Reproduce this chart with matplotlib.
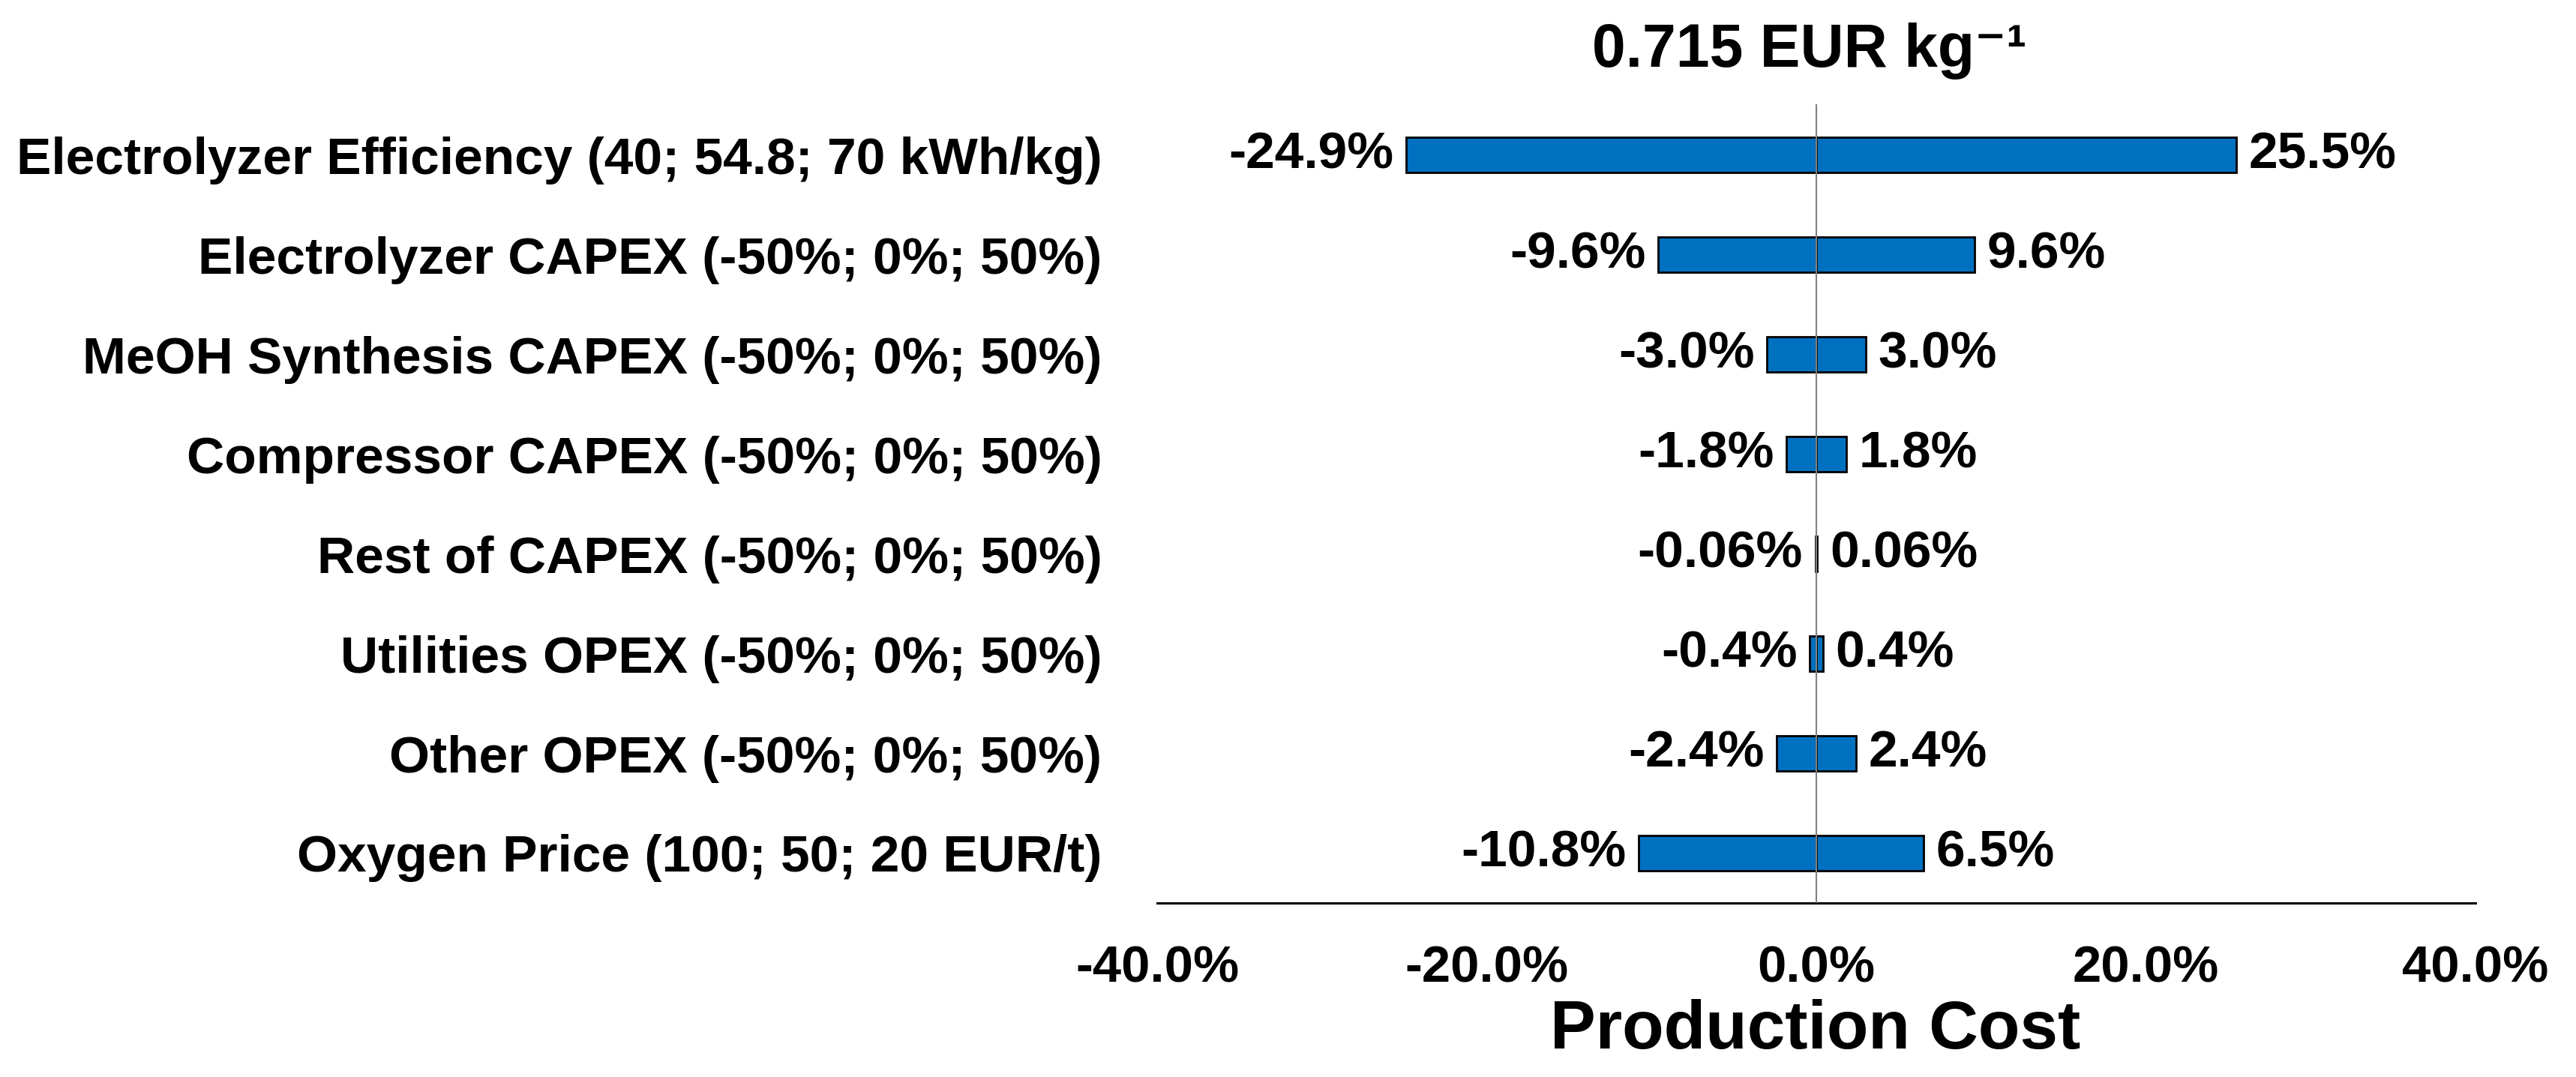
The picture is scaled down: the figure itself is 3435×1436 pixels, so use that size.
import numpy as np
import matplotlib
matplotlib.use("Agg")
import matplotlib.pyplot as plt
from matplotlib.ticker import FuncFormatter

plt.rcParams['font.family'] = ['Liberation Sans', 'DejaVu Sans']
plt.rcParams['font.weight'] = 'bold'

categories = ['Electrolyzer Efficiency (40; 54.8; 70 kWh/kg)',
              'Electrolyzer CAPEX (-50%; 0%; 50%)',
              'MeOH Synthesis CAPEX (-50%; 0%; 50%)',
              'Compressor CAPEX (-50%; 0%; 50%)',
              'Rest of CAPEX (-50%; 0%; 50%)',
              'Utilities OPEX (-50%; 0%; 50%)',
              'Other OPEX (-50%; 0%; 50%)',
              'Oxygen Price (100; 50; 20 EUR/t)']
low = [-24.9, -9.6, -3.0, -1.8, -0.06, -0.4, -2.4, -10.8]
high = [25.5, 9.6, 3.0, 1.8, 0.06, 0.4, 2.4, 6.5]
xticks = [-40, -20, 0, 20, 40]
title = '0.715 EUR kg\u207b\u00b9'
xlabel = 'Production Cost'

def fmt(v):
    if abs(v) < 0.1:
        return '%.2f%%' % v
    return '%.1f%%' % v

fig = plt.figure(figsize=(34.35, 14.36), dpi=100)
ax = fig.add_axes([0.4492, 0.1616, 0.5118, 0.7416])

y = np.arange(len(categories))
blue = '#0070C0'
ax.barh(y, low, height=0.355, color=blue, edgecolor='black', linewidth=2, zorder=2)
ax.barh(y, high, height=0.355, color=blue, edgecolor='black', linewidth=2, zorder=2)
ax.axvline(0, color='#808080', linewidth=1.5, zorder=3)

for i in range(len(categories)):
    ax.annotate(fmt(low[i]), (low[i], y[i]), xytext=(-12, 0), textcoords='offset points',
                ha='right', va='center', fontsize=50, fontweight='bold')
    ax.annotate(fmt(high[i]), (high[i], y[i]), xytext=(12, 0), textcoords='offset points',
                ha='left', va='center', fontsize=50, fontweight='bold')

ax.set_xlim(-40, 40)
ax.set_ylim(7.5, -0.51)
ax.set_xticks(xticks)
ax.xaxis.set_major_formatter(FuncFormatter(lambda v, p: '%.1f%%' % v))
ax.set_yticks(y)
ax.set_yticklabels(categories)
ax.tick_params(axis='y', length=0, pad=53, labelsize=50)
ax.tick_params(axis='x', length=0, pad=40, labelsize=49.5)

for s in ['top', 'right', 'left']:
    ax.spines[s].set_visible(False)
ax.spines['bottom'].set_linewidth(2.2)
ax.spines['bottom'].set_color('black')

ax.set_xlabel(xlabel, fontsize=65.5, fontweight='bold')
ax.xaxis.set_label_coords(0.499, -0.1606)
ax.xaxis.label.set_va('center')

fig.text(0.7025, 1 - 68 / 1436, title, ha='center', va='center', fontsize=58, fontweight='bold')

fig.savefig('out.png', dpi=100)
